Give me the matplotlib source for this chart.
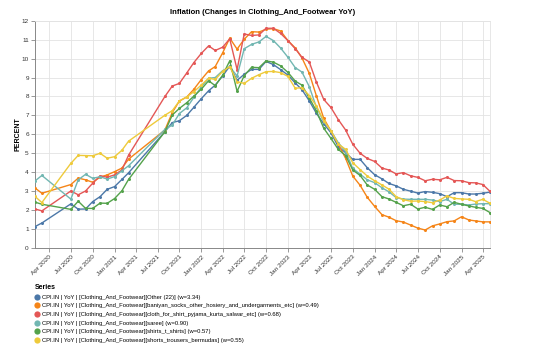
import numpy as np
import pandas as pd
import matplotlib
matplotlib.use("Agg")
import matplotlib.pyplot as plt
import matplotlib.dates as mdates
from matplotlib.lines import Line2D

plt.rcParams['font.family'] = ['Liberation Sans', 'DejaVu Sans']

# monthly observations (Apr-Jun 2020 and Apr-Jul 2021 are missing)
dates = list(pd.date_range("2020-02-01", "2020-03-01", freq="MS")) + \
        list(pd.date_range("2020-07-01", "2021-03-01", freq="MS")) + \
        list(pd.date_range("2021-08-01", "2025-05-01", freq="MS"))

other = [1.13, 1.32, 2.33, 2.05, 2.06, 2.45, 2.71, 3.10, 3.24, 3.62, 3.97,
         6.14, 6.62, 6.72, 7.00, 7.43,
         7.88, 8.30, 8.60, 9.08, 9.60, 8.85, 9.17, 9.43, 9.43, 9.85, 9.68, 9.42,
         9.13, 8.71, 8.36, 7.77, 7.11, 6.55, 6.09, 5.35, 5.03, 4.68, 4.68, 4.24,
         3.87, 3.65, 3.41, 3.28, 3.10, 3.00, 2.90, 2.98, 2.94, 2.87, 2.71, 2.92,
         2.92, 2.85, 2.85, 2.89, 2.95]
baniyan = [3.17, 2.89, 3.35, 3.69, 3.60, 3.47, 3.74, 3.86, 4.03, 4.22, 4.69,
           6.23, 7.15, 7.76, 7.97, 8.38,
           8.89, 9.35, 9.58, 10.30, 11.08, 10.50, 11.02, 11.42, 11.40, 11.55, 11.58, 11.46,
           10.95, 10.56, 10.04, 9.22, 8.03, 6.84, 6.18, 5.49, 4.73, 3.80, 3.31, 2.68,
           2.20, 1.76, 1.63, 1.44, 1.37, 1.21, 1.05, 0.95, 1.17, 1.27, 1.39, 1.43,
           1.65, 1.48, 1.43, 1.38, 1.38]
cloth = [2.06, 1.96, 3.01, 2.81, 3.01, 3.42, 3.81, 3.74, 3.86, 4.12, 4.90,
         8.00, 8.55, 8.69, 9.24, 9.79,
         10.27, 10.67, 10.43, 10.60, 11.04, 9.42, 11.30, 11.22, 11.25, 11.60, 11.60, 11.33,
         10.95, 10.52, 10.07, 9.82, 8.76, 7.84, 7.42, 6.78, 6.23, 5.48, 5.00, 4.73,
         4.57, 4.22, 4.12, 3.91, 3.98, 3.81, 3.73, 3.55, 3.63, 3.60, 3.73, 3.56,
         3.55, 3.45, 3.44, 3.35, 2.99]
saree = [3.54, 3.83, 2.58, 3.60, 3.89, 3.68, 3.76, 3.64, 3.77, 4.08, 4.34,
         6.26, 6.49, 7.10, 7.40, 7.95,
         8.50, 8.96, 9.00, 9.36, 9.57, 9.08, 10.52, 10.75, 10.88, 11.17, 10.95, 10.56,
         10.07, 9.52, 9.29, 8.52, 7.43, 6.67, 6.18, 5.56, 5.09, 4.20, 3.90, 3.60,
         3.45, 3.18, 2.97, 2.66, 2.58, 2.57, 2.57, 2.57, 2.53, 2.45, 2.57, 2.31,
         2.31, 2.27, 2.32, 2.34, 2.34]
shirts = [2.42, 2.31, 2.04, 2.47, 2.09, 2.09, 2.37, 2.36, 2.61, 3.02, 3.62,
          6.14, 7.02, 7.37, 7.67, 8.02,
          8.38, 8.83, 8.57, 9.12, 9.88, 8.27, 9.10, 9.54, 9.52, 9.88, 9.81, 9.62,
          9.27, 8.81, 8.60, 7.92, 7.23, 6.32, 5.79, 5.21, 4.88, 4.12, 3.83, 3.33,
          3.10, 2.71, 2.59, 2.41, 2.23, 2.31, 2.06, 2.15, 2.04, 2.27, 2.18, 2.41,
          2.31, 2.22, 2.15, 2.09, 1.87]
shorts = [2.72, 2.40, 4.47, 4.89, 4.88, 4.87, 5.00, 4.74, 4.82, 5.16, 5.64,
          7.01, 7.25, 7.76, 7.98, 8.25,
          8.60, 8.96, 8.90, 9.32, 9.58, 8.78, 8.69, 8.96, 9.15, 9.31, 9.32, 9.26,
          9.06, 8.43, 8.47, 8.05, 7.50, 6.72, 6.19, 5.49, 5.21, 4.50, 4.14, 3.80,
          3.55, 3.33, 3.11, 2.71, 2.55, 2.47, 2.48, 2.45, 2.39, 2.53, 2.75, 2.62,
          2.59, 2.57, 2.45, 2.57, 2.36]

series_names = [
    "CPI.IN | YoY | [Clothing_And_Footwear][Other (22)] (w=3.34)",
    "CPI.IN | YoY | [Clothing_And_Footwear][baniyan_socks_other_hosiery_and_undergarments_etc] (w=0.49)",
    "CPI.IN | YoY | [Clothing_And_Footwear][cloth_for_shirt_pyjama_kurta_salwar_etc] (w=0.68)",
    "CPI.IN | YoY | [Clothing_And_Footwear][saree] (w=0.90)",
    "CPI.IN | YoY | [Clothing_And_Footwear][shirts_t_shirts] (w=0.57)",
    "CPI.IN | YoY | [Clothing_And_Footwear][shorts_trousers_bermudas] (w=0.55)",
]
series_values = [other, baniyan, cloth, saree, shirts, shorts]
colors = ["#4c78a8", "#f58518", "#e45756", "#72b7b2", "#54a24b", "#eeca3b"]

fig = plt.figure(figsize=(5.6, 3.57), dpi=100)
ax = fig.add_axes([35 / 560, 1 - 248 / 357, 455 / 560, 227.3 / 357])

for vals, c in zip(series_values, colors):
    ax.plot(dates, vals, color=c, lw=1.0, marker="o", ms=2.2, mew=0, zorder=3)

ax.set_xlim(pd.Timestamp("2020-02-01"), pd.Timestamp("2025-05-01"))
ax.set_ylim(0, 12)
ax.set_yticks(range(0, 13))
ax.xaxis.set_major_locator(mdates.MonthLocator(bymonth=[1, 4, 7, 10]))
ax.xaxis.set_major_formatter(mdates.DateFormatter("%b %Y"))
ax.set_xticks([d for d in ax.get_xticks() if d > mdates.date2num(pd.Timestamp("2020-03-15"))])

ax.grid(True, color="#e3e3e3", lw=0.6, zorder=0)
ax.set_axisbelow(True)
for s in ["top", "right"]:
    ax.spines[s].set_color("#e3e3e3")
    ax.spines[s].set_linewidth(0.6)
for s in ["left", "bottom"]:
    ax.spines[s].set_color("#888888")
    ax.spines[s].set_linewidth(0.7)
ax.tick_params(axis="both", length=3, width=0.6, color="#888888", labelsize=4.6, labelcolor="#333333", pad=1.5)
plt.setp(ax.get_xticklabels(), rotation=45, ha="right", rotation_mode="anchor")

ax.set_ylabel("PERCENT", fontsize=5, fontweight="bold", labelpad=0)
ax.set_title("Inflation (Changes in Clothing_And_Footwear YoY)", fontsize=5.5, fontweight="bold", pad=5)

handles = [Line2D([], [], ls="none", marker="o", ms=4.5, mew=0, color=c) for c in colors]
leg = fig.legend(handles, series_names, loc="upper left", bbox_to_anchor=(32 / 560, 1 - 281 / 357),
                 frameon=False, fontsize=4.2, title="Series", title_fontsize=5,
                 handlelength=0.7, handletextpad=0.5, labelspacing=0.62, borderpad=0, alignment="left")
leg.get_title().set_fontweight("bold")

fig.savefig("out.png", dpi=100)
